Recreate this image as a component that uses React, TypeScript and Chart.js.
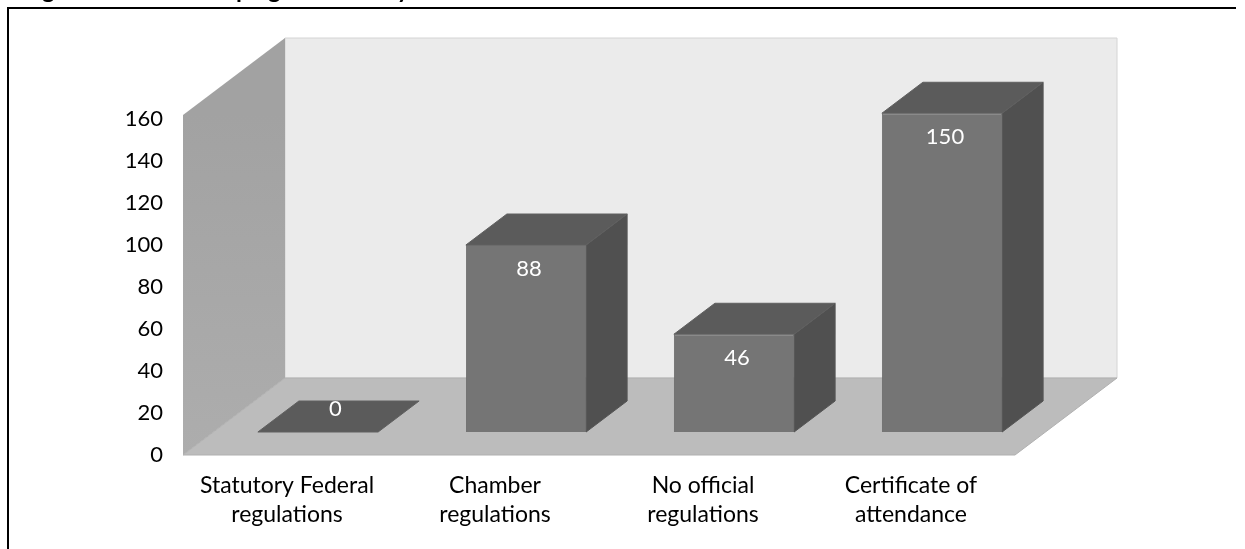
import { useEffect, useRef } from "react";
import { Chart, registerables } from "chart.js";

Chart.register(...registerables);

const categories = [
  ["Statutory Federal", "regulations"],
  ["Chamber", "regulations"],
  ["No official", "regulations"],
  ["Certificate of", "attendance"],
];
const values = [0, 88, 46, 150];
const yMax = 160;
const yLabelMax = 162;
const yStep = 20;

const FONT = "Lato, 'Open Sans', sans-serif";
const TICK_SIZE = 22;
const CATEGORY_SIZE = 23;
const VALUE_SIZE = 22;

// Oblique projection used for the 3D box: room depth and the bar's place inside it.
const ROOM_DX = 102;
const ROOM_DY = 77;
const BAR_OFFSET_X = 31;
const BAR_OFFSET_Y = 23;
const BAR_DX = 41;
const BAR_DY = 31;

function poly(ctx: CanvasRenderingContext2D, pts: number[][], fill: string | CanvasGradient, stroke?: string) {
  ctx.beginPath();
  pts.forEach(([x, y], i) => (i ? ctx.lineTo(x, y) : ctx.moveTo(x, y)));
  ctx.closePath();
  ctx.fillStyle = fill;
  ctx.fill();
  if (stroke) {
    ctx.strokeStyle = stroke;
    ctx.lineWidth = 1;
    ctx.stroke();
  }
}

// Places a caption word so that its leading part ends at the given x.
function captionWord(ctx: CanvasRenderingContext2D, word: string, lead: string, x: number) {
  ctx.fillText(word, x - ctx.measureText(lead).width, -2);
}

// Page furniture: the frame's top and left rules and the caption cut by the page edge.
const framePlugin = {
  id: "frame",
  beforeDraw(chart: any) {
    const { ctx } = chart;
    ctx.save();
    ctx.fillStyle = "#000";
    ctx.fillRect(7, 7, 1229, 2);
    ctx.fillRect(7, 7, 2, 542);
    ctx.font = `bold 24px ${FONT}`;
    ctx.textBaseline = "alphabetic";
    ctx.textAlign = "left";
    captionWord(ctx, "Figure", "Fi", 42);
    captionWord(ctx, "Campaign", "Cam", 236);
    captionWord(ctx, "by", "b", 397);
    ctx.restore();
  },
};

// Back wall, side wall and floor of the chart room, spanned from the plot area.
const roomPlugin = {
  id: "room",
  beforeDatasetsDraw(chart: any) {
    const { ctx, chartArea: a } = chart;
    const { left: l, right: r, top: t, bottom: b } = a;
    ctx.save();
    poly(ctx, [[l + ROOM_DX, t - ROOM_DY], [r + ROOM_DX, t - ROOM_DY], [r + ROOM_DX, b - ROOM_DY], [l + ROOM_DX, b - ROOM_DY]], "#ebebeb", "#d4d4d4");
    const wall = ctx.createLinearGradient(0, t, 0, b);
    wall.addColorStop(0, "#a2a2a2");
    wall.addColorStop(1, "#adadad");
    poly(ctx, [[l, t], [l + ROOM_DX, t - ROOM_DY], [l + ROOM_DX, b - ROOM_DY], [l, b]], wall);
    poly(ctx, [[l, b], [l + ROOM_DX, b - ROOM_DY], [r + ROOM_DX, b - ROOM_DY], [r, b]], "#bcbcbc", "#b0b0b0");
    ctx.restore();
  },
};

// Side and top faces go under the library's bar, which becomes the front face.
const boxPlugin = {
  id: "box",
  beforeDatasetDraw(chart: any, args: any) {
    const { ctx } = chart;
    ctx.save();
    ctx.translate(BAR_OFFSET_X, -BAR_OFFSET_Y);
    args.meta.data.forEach((bar: any) => {
      const { x, y, base, width } = bar.getProps(["x", "y", "base", "width"], true);
      const xl = x - width / 2;
      const xr = x + width / 2;
      if (base - y > 0) {
        poly(ctx, [[xr, y], [xr + BAR_DX, y - BAR_DY], [xr + BAR_DX, base - BAR_DY], [xr, base]], "#505050", "#555555");
      }
      poly(ctx, [[xl, y], [xl + BAR_DX, y - BAR_DY], [xr + BAR_DX, y - BAR_DY], [xr, y]], "#5b5b5b", "#606060");
    });
  },
  afterDatasetDraw(chart: any, args: any) {
    const { ctx } = chart;
    ctx.fillStyle = "#ffffff";
    ctx.font = `${VALUE_SIZE}px ${FONT}`;
    ctx.textAlign = "center";
    ctx.textBaseline = "middle";
    args.meta.data.forEach((bar: any, i: number) => {
      const { x, y } = bar.getProps(["x", "y"], true);
      if (values[i] === 0) {
        ctx.fillText(String(values[i]), x + BAR_DX / 2 - 3, y - BAR_DY / 2 - 8);
      } else {
        ctx.fillText(String(values[i]), x + 3, y + 24);
      }
    });
    ctx.restore();
  },
};

export default function App() {
  const ref = useRef<HTMLCanvasElement>(null);

  useEffect(() => {
    const chart = new Chart(ref.current!, {
      type: "bar",
      data: {
        labels: categories,
        datasets: [
          {
            data: values,
            yAxisID: "y",
            backgroundColor: "#757575",
            borderColor: "#6c6c6c",
            borderWidth: 1,
            categoryPercentage: 1,
            barPercentage: 0.578,
            clip: false,
          } as any,
        ],
      },
      options: {
        responsive: false,
        animation: false,
        layout: { padding: { top: 115, right: 230, left: 0, bottom: 0 } },
        plugins: { legend: { display: false }, title: { display: false }, tooltip: { enabled: false } },
        scales: {
          x: {
            grid: { display: false, drawTicks: false },
            border: { display: false },
            ticks: {
              color: "#000",
              font: { family: FONT, size: CATEGORY_SIZE, lineHeight: 1.26 },
              padding: 16,
              maxRotation: 0,
              autoSkip: false,
            },
            afterFit(scale: any) {
              scale.height = 94;
            },
          },
          // Value scale of the bars; the printed numbers sit on the slightly tighter axis below.
          y: {
            display: false,
            min: 0,
            max: yMax,
          },
          yLabels: {
            position: "left",
            min: 0,
            max: yLabelMax,
            grid: { display: false, drawTicks: false },
            border: { display: false },
            ticks: {
              stepSize: yStep,
              includeBounds: false,
              autoSkip: false,
              color: "#000",
              font: { family: FONT, size: TICK_SIZE },
              padding: 20,
            },
            afterFit(scale: any) {
              scale.width = 183;
            },
          },
        },
      },
      plugins: [framePlugin, roomPlugin, boxPlugin],
    });
    return () => chart.destroy();
  }, []);

  return (
    <div style={{ position: "absolute", left: 0, top: 0, width: 1245, height: 549, background: "#fff" }}>
      <canvas ref={ref} width={1245} height={549} style={{ display: "block" }} />
    </div>
  );
}
